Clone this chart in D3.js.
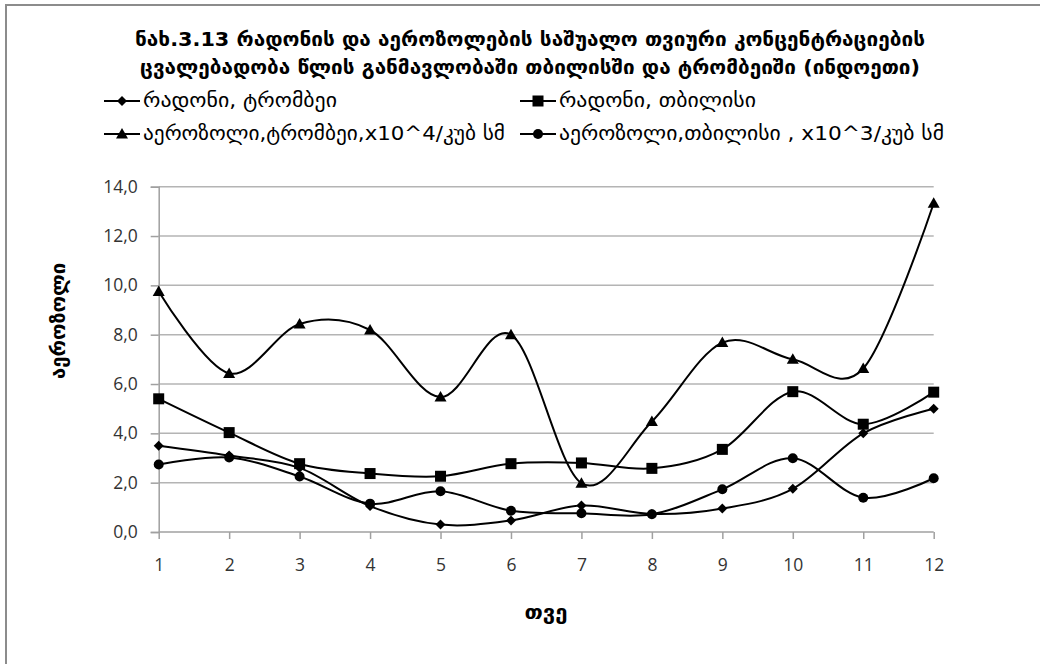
<!DOCTYPE html>
<html>
<head>
<meta charset="utf-8">
<script src="https://cdn.jsdelivr.net/npm/d3@7/dist/d3.min.js"></script>
<style>
  html, body { margin: 0; padding: 0; background: #fff; }
  svg { display: block; }
</style>
</head>
<body>
<svg id="chart" width="1040" height="664"></svg>
<script>
// Months of the year
const months = [1, 2, 3, 4, 5, 6, 7, 8, 9, 10, 11, 12];

// Monthly mean concentrations
const radonTrombay   = [3.5, 3.1, 2.6, 1.05, 0.3, 0.47, 1.07, 0.73, 0.95, 1.75, 4.0, 5.0];
const radonTbilisi   = [5.4, 4.03, 2.77, 2.37, 2.26, 2.77, 2.8, 2.58, 3.35, 5.69, 4.37, 5.67];
const aerosolTrombay = [9.75, 6.43, 8.43, 8.19, 5.47, 8.0, 1.98, 4.48, 7.68, 7.0, 6.63, 13.33];
const aerosolTbilisi = [2.74, 3.02, 2.25, 1.15, 1.65, 0.86, 0.76, 0.72, 1.73, 2.99, 1.39, 2.18];

// Axis ticks
const yTicks = [0, 2, 4, 6, 8, 10, 12, 14];

// Text
const titleLines = [
  "ნახ.3.13  რადონის და აეროზოლების საშუალო თვიური კონცენტრაციების",
  "ცვალებადობა წლის განმავლობაში თბილისში და ტრომბეიში (ინდოეთი)"
];
const seriesNames = [
  "რადონი, ტრომბეი",
  "რადონი, თბილისი",
  "აეროზოლი,ტრომბეი,x10^4/კუბ სმ",
  "აეროზოლი,თბილისი , x10^3/კუბ სმ"
];
const markerKinds = ["diamond", "square", "triangle", "circle"];
const xTitle = "თვე";
const yTitle = "აეროზოლი";

const seriesValues = [radonTrombay, radonTbilisi, aerosolTrombay, aerosolTbilisi];

const svg = d3.select("#chart");
const geoFont = "'DejaVu Sans', 'Noto Sans', sans-serif";
const numFont = "'Open Sans', 'DejaVu Sans', sans-serif";

// Chart area frame
svg.append("rect")
  .attr("x", 6).attr("y", 5)
  .attr("width", 1100).attr("height", 700)
  .attr("fill", "#fff")
  .attr("stroke", "#8c8c8c")
  .attr("stroke-width", 2);

const x = d3.scalePoint().domain(months).range([158.7, 933.7]);
const y = d3.scaleLinear().domain([0, 14]).range([532, 186.7]);

// Horizontal gridlines
svg.append("g").selectAll("line")
  .data(yTicks.filter(d => d > 0))
  .join("line")
  .attr("x1", x.range()[0]).attr("x2", x.range()[1])
  .attr("y1", d => y(d)).attr("y2", d => y(d))
  .attr("stroke", "#b4b4b4")
  .attr("stroke-width", 1.5);

// Y axis
const yAxis = svg.append("g")
  .attr("transform", `translate(${x.range()[0]},0)`)
  .call(d3.axisLeft(y).tickValues(yTicks).tickSize(8).tickPadding(13)
    .tickFormat(d => d3.format(".1f")(d).replace(".", ",")));
yAxis.select(".domain").attr("stroke", "#a0a0a0").attr("stroke-width", 1.5);
yAxis.selectAll(".tick line").attr("stroke", "#a0a0a0").attr("stroke-width", 1.5);
yAxis.selectAll("text").attr("font-family", numFont).attr("font-size", 17.5).attr("fill", "#333");

// X axis
const xAxis = svg.append("g")
  .attr("transform", `translate(0,${y(0)})`)
  .call(d3.axisBottom(x).tickSize(7).tickPadding(20).tickSizeOuter(0));
xAxis.select(".domain").attr("stroke", "#a0a0a0").attr("stroke-width", 1.5)
  .attr("d", `M${x.range()[0]},0H${x.range()[1]}`);
xAxis.selectAll(".tick line").attr("stroke", "#a0a0a0").attr("stroke-width", 1.5);
xAxis.selectAll("text").attr("font-family", numFont).attr("font-size", 17.5).attr("fill", "#333");

// Marker shapes
function drawMarker(sel, kind) {
  if (kind === "diamond") {
    sel.append("path").attr("d", "M0,-5L5,0L0,5L-5,0Z").attr("fill", "#000");
  } else if (kind === "square") {
    sel.append("rect").attr("x", -5.5).attr("y", -5.5).attr("width", 11).attr("height", 11).attr("fill", "#000");
  } else if (kind === "triangle") {
    sel.append("path").attr("d", "M0,-6L6,4.5L-6,4.5Z").attr("fill", "#000");
  } else {
    sel.append("circle").attr("r", 5).attr("fill", "#000");
  }
}

// Smoothed series lines
const line = d3.line()
  .x((d, i) => x(months[i]))
  .y(d => y(d))
  .curve(d3.curveCardinal.tension(0));

seriesValues.forEach((vals, si) => {
  const g = svg.append("g");
  g.append("path")
    .attr("d", line(vals))
    .attr("fill", "none")
    .attr("stroke", "#000")
    .attr("stroke-width", 2);
  vals.forEach((v, i) => {
    const m = g.append("g").attr("transform", `translate(${x(months[i])},${y(v)})`);
    drawMarker(m, markerKinds[si]);
  });
});

// Title
const titleWidths = [790, 780];
svg.append("g").selectAll("text")
  .data(titleLines)
  .join("text")
  .attr("x", 530)
  .attr("y", (d, i) => 40 + i * 28)
  .attr("text-anchor", "middle")
  .attr("dominant-baseline", "middle")
  .attr("font-family", geoFont)
  .attr("font-weight", "bold")
  .attr("font-size", 19)
  .attr("textLength", (d, i) => titleWidths[i])
  .attr("lengthAdjust", "spacingAndGlyphs")
  .attr("fill", "#000")
  .text(d => d);

// Legend
const legendPos = [[104, 101], [520, 101], [104, 134], [520, 134]];
const legendWidths = [194, 197, 362, 385];
seriesNames.forEach((name, i) => {
  const [lx, ly] = legendPos[i];
  const g = svg.append("g").attr("transform", `translate(${lx},${ly})`);
  g.append("line").attr("x1", 0).attr("x2", 36).attr("y1", 0).attr("y2", 0)
    .attr("stroke", "#000").attr("stroke-width", 2);
  drawMarker(g.append("g").attr("transform", "translate(18,0)"), markerKinds[i]);
  g.append("text")
    .attr("x", 39).attr("y", 0)
    .attr("dominant-baseline", "middle")
    .attr("font-family", geoFont)
    .attr("font-size", 19)
    .attr("textLength", legendWidths[i])
    .attr("lengthAdjust", "spacingAndGlyphs")
    .attr("fill", "#000")
    .text(name);
});

// Axis titles
svg.append("text")
  .attr("x", 546).attr("y", 613)
  .attr("text-anchor", "middle")
  .attr("dominant-baseline", "middle")
  .attr("font-family", geoFont)
  .attr("font-weight", "bold")
  .attr("font-size", 20)
  .attr("textLength", 43)
  .attr("lengthAdjust", "spacingAndGlyphs")
  .text(xTitle);

svg.append("text")
  .attr("transform", "translate(59,321) rotate(-90)")
  .attr("text-anchor", "middle")
  .attr("dominant-baseline", "middle")
  .attr("font-family", geoFont)
  .attr("font-weight", "bold")
  .attr("font-size", 19)
  .attr("textLength", 116)
  .attr("lengthAdjust", "spacingAndGlyphs")
  .text(yTitle);
</script>
</body>
</html>
